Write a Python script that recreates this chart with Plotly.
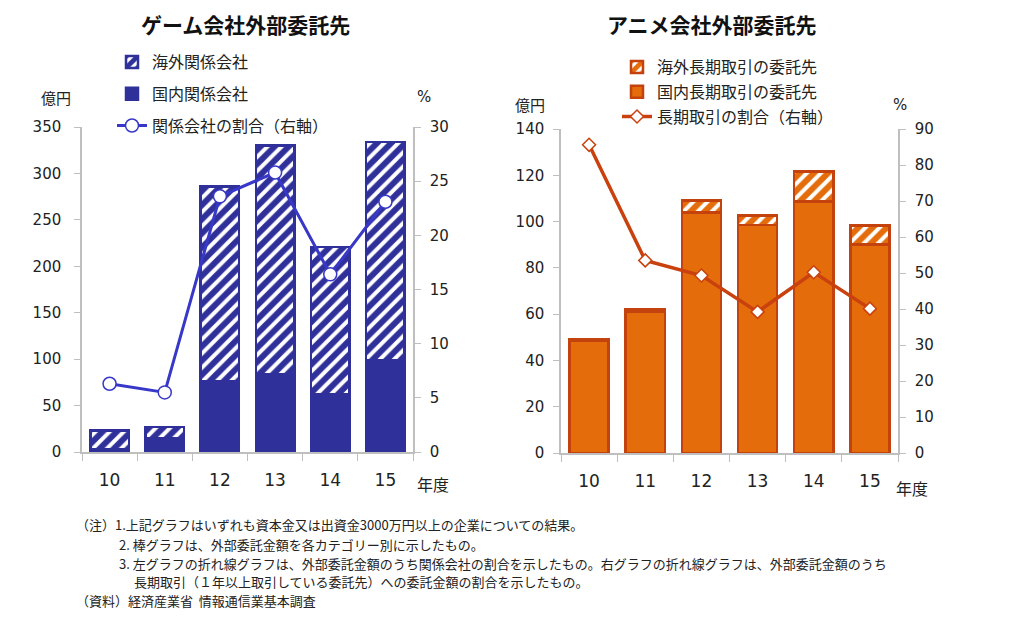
import plotly.graph_objects as go

years = ["10", "11", "12", "13", "14", "15"]

# Game companies (億円 / %)
game_domestic = [3, 15, 76, 84, 62, 99]
game_overseas = [20, 12, 210, 246, 159, 235]
game_ratio = [6.3, 5.5, 23.6, 25.8, 16.4, 23.1]

# Anime companies (億円 / %)
anime_domestic = [48.5, 61, 104, 98.5, 108.7, 90]
anime_overseas = [0.5, 1, 5.2, 4.2, 13, 8.4]
anime_ratio = [85.6, 53.5, 49.3, 39.2, 50.2, 40.1]

W, H = 1024, 631
OFF = 8  # page body margin
BLUE_BAR = "#30309A"
BLUE_LINE = "#3838C8"
OR_FILL = "#E46C0A"
OR_EDGE = "#C4420E"
OR_LINE = "#C9410E"
AX = "#BFBFBF"
TXT = "#222222"
NUM_FONT = "DejaVu Sans, Noto Sans CJK JP"
JP_FONT = "Noto Sans CJK JP"

def px(x):
    return (x - OFF) / W

def py(y):
    return 1 - (y - OFF) / H

fig = go.Figure()

# ---- Left chart ----
fig.add_trace(go.Bar(
    x=years, y=game_domestic, name="国内関係会社", xaxis="x", yaxis="y",
    marker=dict(color=BLUE_BAR, line=dict(color=BLUE_BAR, width=2.5)),
    legend="legend", legendrank=2, legendgroup="g2"))
fig.add_trace(go.Bar(
    x=years, y=game_overseas, name="海外関係会社", xaxis="x", yaxis="y",
    marker=dict(color="white", line=dict(color=BLUE_BAR, width=2.5),
                pattern=dict(shape="/", fgcolor=BLUE_BAR, bgcolor="white", fgopacity=1,
                             size=10, solidity=0.6, fillmode="overlay")),
    legend="legend", legendrank=1, legendgroup="g1"))
fig.add_trace(go.Scatter(
    x=years, y=game_ratio, name="関係会社の割合（右軸）", xaxis="x", yaxis="y2",
    mode="lines+markers", line=dict(color=BLUE_LINE, width=3),
    marker=dict(symbol="circle", size=13, color="white",
                line=dict(color=BLUE_LINE, width=1.5)),
    legend="legend", legendrank=3, legendgroup="g3"))

# ---- Right chart ----
fig.add_trace(go.Bar(
    x=years, y=anime_domestic, name="国内長期取引の委託先", xaxis="x2", yaxis="y3",
    marker=dict(color=OR_FILL, line=dict(color=OR_EDGE, width=2.5)),
    legend="legend2", legendrank=2, legendgroup="a2"))
fig.add_trace(go.Bar(
    x=years, y=anime_overseas, name="海外長期取引の委託先", xaxis="x2", yaxis="y3",
    marker=dict(color="white", line=dict(color=OR_EDGE, width=2.5),
                pattern=dict(shape="/", fgcolor=OR_FILL, bgcolor="white", fgopacity=1,
                             size=10, solidity=0.6, fillmode="overlay")),
    legend="legend2", legendrank=1, legendgroup="a1"))
fig.add_trace(go.Scatter(
    x=years, y=anime_ratio, name="長期取引の割合（右軸）", xaxis="x2", yaxis="y4",
    mode="lines+markers", line=dict(color=OR_LINE, width=3.5),
    marker=dict(symbol="diamond", size=10, color="white",
                line=dict(color=OR_LINE, width=1.5)),
    legend="legend2", legendrank=3, legendgroup="a3"))

def xax(domain, anchor):
    return dict(domain=domain, anchor=anchor, type="category",
                categoryorder="array", categoryarray=years,
                showline=True, linecolor=AX, linewidth=1.5,
                ticks="outside", tickson="boundaries", ticklen=7, tickcolor=AX,
                tickfont=dict(family=NUM_FONT, size=17, color=TXT),
                ticklabelstandoff=12, showgrid=False, zeroline=False,
                fixedrange=True, automargin=False)

def yax(domain, anchor, rng, dtick, side="left", overlay=None, standoff=6):
    d = dict(domain=domain, anchor=anchor, range=rng, dtick=dtick, side=side,
             showline=True, linecolor=AX, linewidth=1.5,
             ticks="outside", ticklen=6, tickcolor=AX,
             tickfont=dict(family=NUM_FONT, size=15, color=TXT),
             ticklabelstandoff=standoff,
             showgrid=False, zeroline=False, fixedrange=True, automargin=False)
    if overlay:
        d["overlaying"] = overlay
    return d

left_x = [px(82), px(413)]
left_y = [py(452), py(127)]
right_x = [px(561), px(898)]
right_y = [py(453), py(129)]

fig.update_layout(
    width=W, height=H, autosize=False,
    margin=dict(l=0, r=0, t=0, b=0, pad=0, autoexpand=False),
    paper_bgcolor="white", plot_bgcolor="rgba(0,0,0,0)",
    barmode="stack", bargap=0.3,
    font=dict(family=JP_FONT, color=TXT),
    xaxis=xax(left_x, "y"),
    yaxis=yax(left_y, "x", [0, 350], 50, standoff=10),
    yaxis2=yax(left_y, "x", [0, 30], 5, side="right", overlay="y"),
    xaxis2=xax(right_x, "y3"),
    yaxis3=yax(right_y, "x2", [0, 140], 20),
    yaxis4=yax(right_y, "x2", [0, 90], 10, side="right", overlay="y3"),
    legend=dict(x=px(112), y=py(45), xanchor="left", yanchor="top",
                traceorder="grouped", tracegroupgap=8,
                font=dict(family=JP_FONT, size=16, color=TXT),
                bgcolor="rgba(0,0,0,0)"),
    legend2=dict(x=px(617), y=py(50), xanchor="left", yanchor="top",
                 traceorder="grouped", tracegroupgap=1,
                 font=dict(family=JP_FONT, size=16, color=TXT),
                 bgcolor="rgba(0,0,0,0)"),
)

ann = []
def text(x, y, s, size=15, bold=False, xanchor="center", yanchor="middle", family=JP_FONT):
    ann.append(dict(x=px(x), y=py(y), xref="paper", yref="paper", text=(f"<b>{s}</b>" if bold else s),
                    showarrow=False, xanchor=xanchor, yanchor=yanchor, borderpad=0,
                    font=dict(family=family, size=size, color="#111111" if bold else TXT)))

text(245, 8, "ゲーム会社外部委託先", size=21, bold=True, yanchor="top")
text(712, 8, "アニメ会社外部委託先", size=21, bold=True, yanchor="top")
text(56, 98, "億円", size=15)
text(424, 97, "%", size=15, family=NUM_FONT)
text(530, 105, "億円", size=15)
text(900, 105, "%", size=15, family=NUM_FONT)
text(433, 484, "年度", size=16)
text(912, 488, "年度", size=16)

notes = [
    (75, 524, "（注）1.上記グラフはいずれも資本金又は出資金3000万円以上の企業についての結果。"),
    (118, 544, "2. 棒グラフは、外部委託金額を各カテゴリー別に示したもの。"),
    (118, 563, "3. 左グラフの折れ線グラフは、外部委託金額のうち関係会社の割合を示したもの。右グラフの折れ線グラフは、外部委託金額のうち"),
    (133, 581, "長期取引（１年以上取引している委託先）への委託金額の割合を示したもの。"),
    (75, 600, "（資料）経済産業省  情報通信業基本調査"),
]
for x, y, s in notes:
    text(x, y, s, size=13, xanchor="left")

fig.update_layout(annotations=ann)
fig.write_html("out.html")
